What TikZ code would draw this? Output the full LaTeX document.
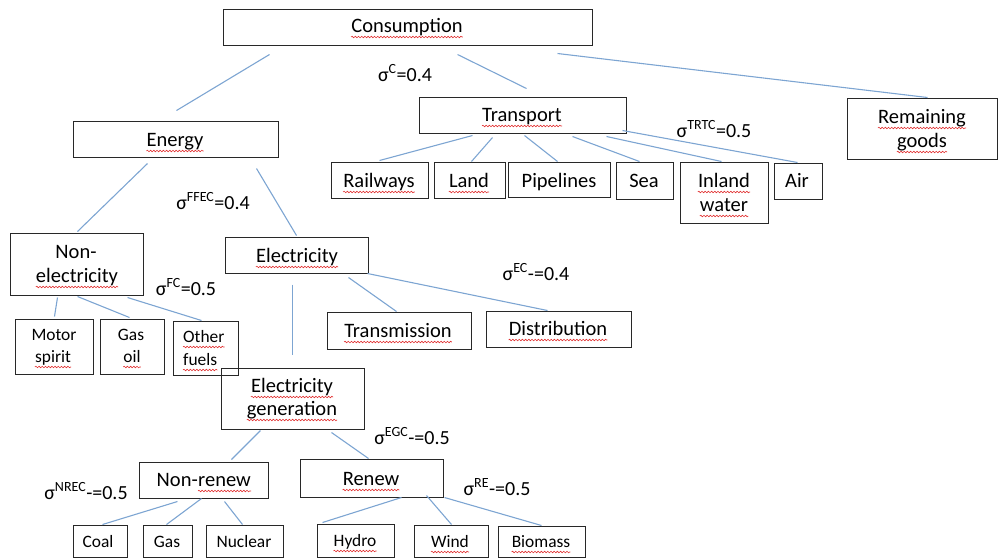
\documentclass[tikz,border=0pt]{standalone}
\usepackage{fontspec}
\setmainfont{Carlito}
\usetikzlibrary{decorations.pathmorphing}
\definecolor{linkblue}{RGB}{125,165,210}
\definecolor{boxline}{RGB}{40,40,40}
\definecolor{squigred}{RGB}{225,50,50}
\newcommand\DBox[6]{\node[#1,minimum width={(#5-#3)*1pt},minimum height={(#6-#4)*1pt}] (#2) at ({(#3+#5)/2},{(#4+#6)/2}) {};}
\newcommand\Squig[1]{\draw[squig] ([yshift=-5pt]#1.base west) -- ([yshift=-5pt]#1.base east);}
\tikzset{
  box/.style={draw=boxline, line width=1pt, inner sep=0pt},
  txt/.style={inner sep=0pt, anchor=base, font=\fontsize{20.5}{24}\selectfont},
  stxt/.style={txt, font=\fontsize{17.4}{21}\selectfont},
  link/.style={draw=linkblue, line width=1.1pt},
  lbl/.style={inner sep=0pt, font=\fontsize{20}{24}\selectfont},
  squig/.style={draw=squigred, line width=0.6pt, decorate, decoration={snake, amplitude=0.8pt, segment length=3.2pt}}
}
\begin{document}
\begin{tikzpicture}[x=1pt,y=-1pt]
\useasboundingbox (0,0) rectangle (1000,558);
% boxes
\DBox{box}{cons}{223}{9}{592}{45}
\DBox{box}{energy}{73}{121}{278}{157}
\DBox{box}{trans}{419}{97}{626}{133}
\DBox{box}{rem}{847}{98}{997}{159}
\DBox{box}{rail}{331}{162}{428}{198}
\DBox{box}{land}{434}{162}{505}{198}
\DBox{box}{pipe}{508}{162}{610}{197}
\DBox{box}{sea}{616}{162}{673}{199}
\DBox{box}{inland}{680}{162}{768}{223}
\DBox{box}{air}{774}{163}{822}{199}
\DBox{box}{nonel}{10}{233}{143}{295}
\DBox{box}{elec}{225}{237}{368}{273}
\DBox{box}{motor}{15}{319}{93}{374}
\DBox{box}{gasoil}{100}{319}{164}{374}
\DBox{box}{egen}{221}{368}{364}{429}
\DBox{box}{other}{173}{321}{238}{375}
\DBox{box}{transm}{327}{312}{471}{349}
\DBox{box}{distr}{486}{311}{631}{347}
\DBox{box}{nonren}{139}{462}{268}{498}
\DBox{box}{renew}{300}{459}{443}{497}
\DBox{box}{coal}{73}{525}{127}{557}
\DBox{box}{gas}{143}{525}{192}{557}
\DBox{box}{nuclear}{206}{525}{283}{557}
\DBox{box}{hydro}{317}{524}{394}{557}
\DBox{box}{wind}{414}{525}{488}{557}
\DBox{box}{biomass}{498}{526}{585}{557}
% texts
\node[txt] (tCons) at (407,32) {Consumption};
\node[txt] (tEnergy) at (175,146) {Energy};
\node[txt] (tTrans) at (522,121) {Transport};
\node[txt] (tRem1) at (922,123) {Remaining};
\node[txt] (tRem2) at (922,147) {goods};
\node[txt] (tRail) at (379,187) {Railways};
\node[txt] (tLand) at (469,187) {Land};
\node[txt] (tPipe) at (559,187) {Pipelines};
\node[txt] (tSea) at (644,187) {Sea};
\node[txt] (tInl1) at (724,187) {Inland};
\node[txt] (tInl2) at (724,211) {water};
\node[txt] (tAir) at (797,187) {Air};
\node[txt] (tNon1) at (76,258) {Non-};
\node[txt] (tNon2) at (77,282) {electricity};
\node[txt] (tElec) at (297,262) {Electricity};
\node[stxt] (tMot1) at (54,340) {Motor};
\node[stxt] (tMot2) at (53,362) {spirit};
\node[stxt] (tGas1) at (131,340) {Gas};
\node[stxt] (tGas2) at (132,362) {oil};
\node[stxt, anchor=base west] (tOth1) at (183,342) {Other};
\node[stxt, anchor=base west] (tOth2) at (183,365) {fuels};
\node[txt] (tEg1) at (292,392) {Electricity};
\node[txt] (tEg2) at (292,415) {generation};
\node[txt] (tTrm) at (398,337) {Transmission};
\node[txt] (tDis) at (558,335) {Distribution};
\node[txt, anchor=base east] (tNr1) at (198,486) {Non-};
\node[txt, anchor=base west] (tNr2) at (tNr1.base east) {renew};
\node[txt] (tRen) at (371,485) {Renew};
\node[stxt] (tCoal) at (98,547) {Coal};
\node[stxt] (tGas) at (167,547) {Gas};
\node[stxt] (tNuc) at (244,547) {Nuclear};
\node[stxt] (tHyd) at (355,546) {Hydro};
\node[stxt] (tWind) at (450,547) {Wind};
\node[stxt] (tBio) at (541,547) {Biomass};
% spell-check squiggles
\foreach \n in {tCons,tEnergy,tTrans,tRem1,tRem2,tRail,tLand,tInl1,tInl2,tNon2,tElec,tMot2,tGas2,tOth1,tOth2,tEg1,tEg2,tTrm,tDis,tNr2,tRen,tHyd,tWind,tBio}{\Squig{\n}}
% connectors
\draw[link] ([shift={(47,9)}]cons.south west) -- ([shift={(104,-10)}]energy.north west);
\draw[link] ([shift={(235,9)}]cons.south west) -- ([shift={(108,-8)}]trans.north west);
\draw[link] ([shift={(335,8)}]cons.south west) -- ([shift={(81,0)}]rem.north west);
\draw[link] ([shift={(54,2)}]trans.south west) -- ([shift={(49,-1)}]rail.north west);
\draw[link] ([shift={(74,4)}]trans.south west) -- ([shift={(38,0)}]land.north west);
\draw[link] ([shift={(106,2)}]trans.south west) -- ([shift={(50,0)}]pipe.north west);
\draw[link] ([shift={(154,3)}]trans.south west) -- ([shift={(24,0)}]sea.north west);
\draw[link] ([shift={(188,3)}]trans.south west) -- ([shift={(42,0)}]inland.north west);
\draw[link] ([shift={(204,-3)}]trans.south west) -- ([shift={(24,0)}]air.north west);
\draw[link] ([shift={(75,6)}]energy.south west) -- ([shift={(68,-1)}]nonel.north west);
\draw[link] ([shift={(184,11)}]energy.south west) -- ([shift={(72,-1)}]elec.north west);
\draw[link] ([shift={(48,2)}]nonel.south west) -- ([shift={(40,-2)}]motor.north west);
\draw[link] ([shift={(68,1)}]nonel.south west) -- ([shift={(30,-1)}]gasoil.north west);
\draw[link] ([shift={(118,2)}]nonel.south west) -- ([shift={(29,0)}]other.north west);
\draw[link] ([shift={(68,11)}]elec.south west) -- ([shift={(72,-13)}]egen.north west);
\draw[link] ([shift={(124,4)}]elec.south west) -- ([shift={(70,0)}]transm.north west);
\draw[link] ([shift={(143,0)}]elec.south west) -- ([shift={(62,0)}]distr.north west);
\draw[link] ([shift={(40,1)}]egen.south west) -- ([shift={(93,-2)}]nonren.north west);
\draw[link] ([shift={(111,3)}]egen.south west) -- ([shift={(69,0)}]renew.north west);
\draw[link] ([shift={(39,3)}]nonren.south west) -- ([shift={(30,0)}]coal.north west);
\draw[link] ([shift={(63,0)}]nonren.south west) -- ([shift={(24,0)}]gas.north west);
\draw[link] ([shift={(86,3)}]nonren.south west) -- ([shift={(37,0)}]nuclear.north west);
\draw[link] ([shift={(102,0)}]renew.south west) -- ([shift={(6,-1)}]hydro.north west);
\draw[link] ([shift={(127,-2)}]renew.south west) -- ([shift={(38,0)}]wind.north west);
\draw[link] ([shift={(145,0)}]renew.south west) -- ([shift={(44,0)}]biomass.north west);
% labels
\node[lbl] (sC) at (405,73) {σ\textsuperscript{C}=0.4};
\node[lbl] (sTRTC) at (714,129) {σ\textsuperscript{TRTC}=0.5};
\node[lbl] (sFFEC) at (213,201) {σ\textsuperscript{FFEC}=0.4};
\node[lbl] (sFC) at (186,287) {σ\textsuperscript{FC}=0.5};
\node[lbl] (sEC) at (536,272) {σ\textsuperscript{EC}-=0.4};
\node[lbl] (sEGC) at (412,436) {σ\textsuperscript{EGC}-=0.5};
\node[lbl] (sNREC) at (86,491) {σ\textsuperscript{NREC}-=0.5};
\node[lbl] (sRE) at (497,487) {σ\textsuperscript{RE}-=0.5};
\end{tikzpicture}
\end{document}
